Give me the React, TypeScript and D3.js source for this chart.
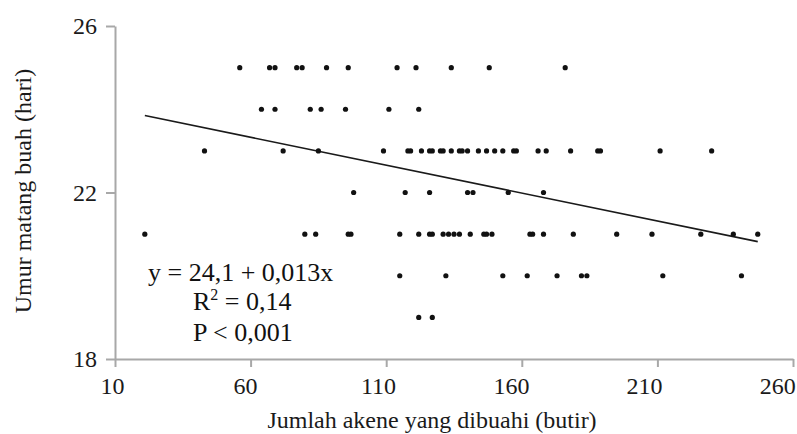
import {useEffect, useRef} from "react";
import * as d3 from "d3";

// achene counts for each fruit, grouped by days to ripeness
const days25 = [56, 67, 69, 77, 79, 88, 96, 114, 121, 134, 148, 176];
const days24 = [64, 69, 82, 86, 95, 111, 122];
const days23 = [43, 72, 85, 109, 118, 119, 123, 126, 127, 130, 131, 134, 137, 138, 140, 144, 147, 150, 153, 157, 158, 166, 169, 178, 188, 189, 211, 230];
const days22 = [98, 117, 126, 140, 142, 155, 168];
const days21 = [21, 80, 84, 96, 97, 115, 122, 126, 127, 131, 133, 135, 137, 141, 146, 147, 149, 163, 164, 168, 179, 195, 208, 226, 238, 247];
const days20 = [115, 132, 153, 162, 173, 182, 184, 212, 241];
const days19 = [122, 127];

const xTicks = [10, 60, 110, 160, 210, 260];
const yTicks = [18, 22, 26];

// fitted line
const fitIntercept = 24.13;
const fitSlope = -0.0134;

const annotation = ["y = 24,1 + 0,013x", "R", "P < 0,001"];

type Pt = { x: number, y: number };

export default function App() {
    const ref = useRef<SVGSVGElement>(null);

    useEffect(() => {
        const width = 797, height = 434;
        const svg = d3.select(ref.current)
            .attr("width", width)
            .attr("height", height);
        svg.selectAll("*").remove();

        const font = "'Times New Roman', Times, 'Liberation Serif', Tinos, 'Noto Serif', 'DejaVu Serif', serif";

        const rows: [number, number[]][] = [[25, days25], [24, days24], [23, days23], [22, days22], [21, days21], [20, days20], [19, days19]];
        const points: Pt[] = [];
        rows.forEach(([day, xs]) => xs.forEach(v => points.push({x: v, y: day})));

        const x = d3.scaleLinear().domain([10, 260]).range([115, 793]);
        const y = d3.scaleLinear().domain([18, 26]).range([359, 26]);

        // axes
        const gx = svg.append("g")
            .attr("transform", "translate(0,359)")
            .call(d3.axisBottom(x).tickValues(xTicks).tickSize(8).tickSizeOuter(0).tickPadding(10).tickFormat(d3.format("d")));
        const gy = svg.append("g")
            .attr("transform", "translate(115,0)")
            .call(d3.axisLeft(y).tickValues(yTicks).tickSize(9).tickSizeOuter(0).tickPadding(9).tickFormat(d3.format("d")));

        [gx, gy].forEach(g => {
            g.attr("font-family", null).attr("font-size", null);
            g.select(".domain").attr("stroke", "#a8a8a8").attr("stroke-width", 2);
            g.selectAll(".tick line").attr("stroke", "#a8a8a8").attr("stroke-width", 2);
            g.selectAll(".tick text")
                .style("font-family", font)
                .style("font-size", "24px")
                .attr("fill", "#1a1a1a");
        });
        // labels in the source drift a little left of their ticks
        gx.selectAll<SVGTextElement, number>(".tick text")
            .attr("dx", d => -3 - 0.019 * (x(d) - 115));

        // regression line
        const xExt = d3.extent(points, d => d.x) as [number, number];
        svg.append("line")
            .attr("x1", x(xExt[0]))
            .attr("y1", y(fitIntercept + fitSlope * xExt[0]))
            .attr("x2", x(xExt[1]))
            .attr("y2", y(fitIntercept + fitSlope * xExt[1]))
            .attr("stroke", "#1a1a1a")
            .attr("stroke-width", 1.6);

        // points
        svg.append("g")
            .selectAll("circle")
            .data(points)
            .enter()
            .append("circle")
            .attr("cx", d => x(d.x))
            .attr("cy", d => y(d.y))
            .attr("r", 2.6)
            .attr("fill", "#111");

        // annotation
        const ann = svg.append("g")
            .style("font-family", font)
            .style("font-size", "26px")
            .attr("fill", "#111");
        ann.append("text").attr("x", 148).attr("y", 281).text(annotation[0]);
        const r2 = ann.append("text").attr("x", 193).attr("y", 310);
        r2.append("tspan").text(annotation[1]);
        r2.append("tspan").style("font-size", "16px").attr("dy", -10).text("2");
        r2.append("tspan").attr("dy", 10).text(" = 0,14");
        ann.append("text").attr("x", 193).attr("y", 341).text(annotation[2]);

        // axis titles
        svg.append("text")
            .attr("x", 432)
            .attr("y", 428)
            .attr("text-anchor", "middle")
            .style("font-family", font)
            .style("font-size", "24px")
            .attr("fill", "#1a1a1a")
            .text("Jumlah akene yang dibuahi (butir)");

        svg.append("text")
            .attr("transform", "translate(31,191) rotate(-90)")
            .attr("text-anchor", "middle")
            .style("font-family", font)
            .style("font-size", "24px")
            .attr("fill", "#1a1a1a")
            .text("Umur matang buah (hari)");
    }, []);

    return <svg ref={ref} style={{position: "absolute", left: 0, top: 0, background: "#fff"}}></svg>
}
